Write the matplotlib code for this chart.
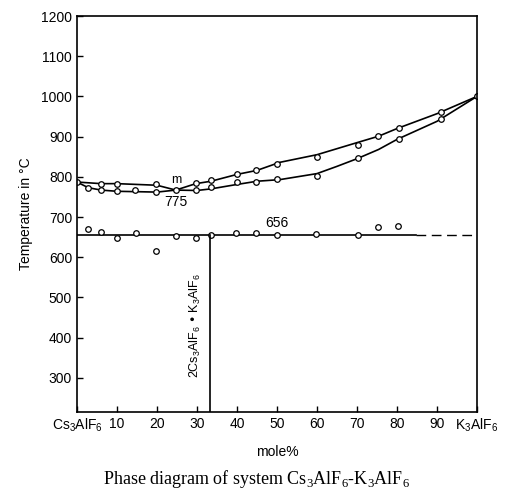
import matplotlib.pyplot as plt

plt.rcParams['font.family'] = ['Liberation Sans', 'DejaVu Sans']

# liquidus / solidus curves (mole% K3AlF6, deg C)
upper_x = [0, 6, 10, 20, 24.7, 29.7, 33.5, 40, 45, 50.7, 60, 65, 70, 75.4, 80, 90, 100]
upper_t = [787, 783, 783, 779, 767, 783, 789, 806, 816, 836, 855, 870, 885, 901, 920, 957, 1000]
lower_x = [0, 2.8, 6, 10, 15, 20, 24.7, 30, 33.5, 40, 45, 50.7, 60, 65, 70, 75.4, 80, 90, 100]
lower_t = [787, 773, 767, 764, 763, 762, 767, 766, 770, 781, 789, 793, 808, 826, 845, 868, 893, 938, 1000]

# measured points on the curves
pts_x = [0, 2.8, 6.1, 6.1, 10, 10, 14.5, 19.7, 19.7, 24.7, 29.8, 29.8, 33.5, 33.5,
         39.9, 39.9, 44.8, 44.8, 50, 50, 60, 60, 70.3, 70.3, 75.2, 80.5, 80.5, 90.9, 90.9, 100]
pts_t = [787, 773, 783, 766, 783, 764, 768, 781, 762, 767, 785, 767, 791, 775,
         807, 787, 816, 788, 831, 795, 849, 803, 878, 847, 901, 922, 893, 961, 943, 1000]

# points near the eutectoid line at 656
eut_x = [2.8, 5.9, 9.9, 14.7, 19.7, 24.7, 29.7, 33.6, 39.7, 44.8, 50, 59.8, 70.2, 75.2, 80.2]
eut_t = [671, 662, 647, 659, 615, 652, 647, 656, 659, 660, 656, 658, 656, 675, 678]

eut_temp = 656
compound_x = 33.3

x_ticks = [0, 10, 20, 30, 40, 50, 60, 70, 80, 90, 100]
x_labels = ['Cs$_\\mathregular{3}$AlF$_\\mathregular{6}$', '10', '20', '30', '40', '50',
            '60', '70', '80', '90', 'K$_\\mathregular{3}$AlF$_\\mathregular{6}$']
y_ticks = [300, 400, 500, 600, 700, 800, 900, 1000, 1100, 1200]

fig = plt.figure(figsize=(5.12, 4.94), dpi=100)
ax = fig.add_axes([0.1504, 0.166, 0.7812, 0.8016])

ax.plot(upper_x, upper_t, color='black', lw=1.2)
ax.plot(lower_x, lower_t, color='black', lw=1.2)
ax.plot(pts_x, pts_t, 'o', mfc='white', mec='black', ms=4, mew=0.9)

ax.plot([0, 84.7], [eut_temp, eut_temp], color='black', lw=1.2)
ax.plot([84.7, 100], [eut_temp, eut_temp], color='black', lw=1.0, dashes=(7, 4))
ax.plot(eut_x, eut_t, 'o', mfc='white', mec='black', ms=4, mew=0.9)
ax.plot([compound_x, compound_x], [215, eut_temp], color='black', lw=1.2)

ax.text(24.7, 793, 'm', fontsize=9, ha='center', va='center')
ax.text(24.8, 737, '775', fontsize=10, ha='center', va='center')
ax.text(50, 686, '656', fontsize=10, ha='center', va='center')
ax.text(29.6, 300, '2Cs$_\\mathregular{3}$AlF$_\\mathregular{6}$ \u2022 K$_\\mathregular{3}$AlF$_\\mathregular{6}$',
        rotation=90, fontsize=9, ha='center', va='bottom')

ax.set_xlim(0, 100)
ax.set_ylim(215, 1200)
ax.set_xticks(x_ticks)
ax.set_xticklabels(x_labels)
ax.set_yticks(y_ticks)
ax.tick_params(direction='in', length=4, width=1, labelsize=10, top=False, right=False)
for s in ax.spines.values():
    s.set_linewidth(1.2)

ax.set_xlabel('mole%', fontsize=10, labelpad=8)
ax.set_ylabel('Temperature in \u00b0C', fontsize=10, labelpad=6)

fig.text(0.5, 0.03, 'Phase diagram of system Cs$_\\mathregular{3}$AlF$_\\mathregular{6}$-K$_\\mathregular{3}$AlF$_\\mathregular{6}$',
         family='Liberation Serif', fontsize=13, ha='center', va='center')

fig.savefig('out.png', dpi=100)
